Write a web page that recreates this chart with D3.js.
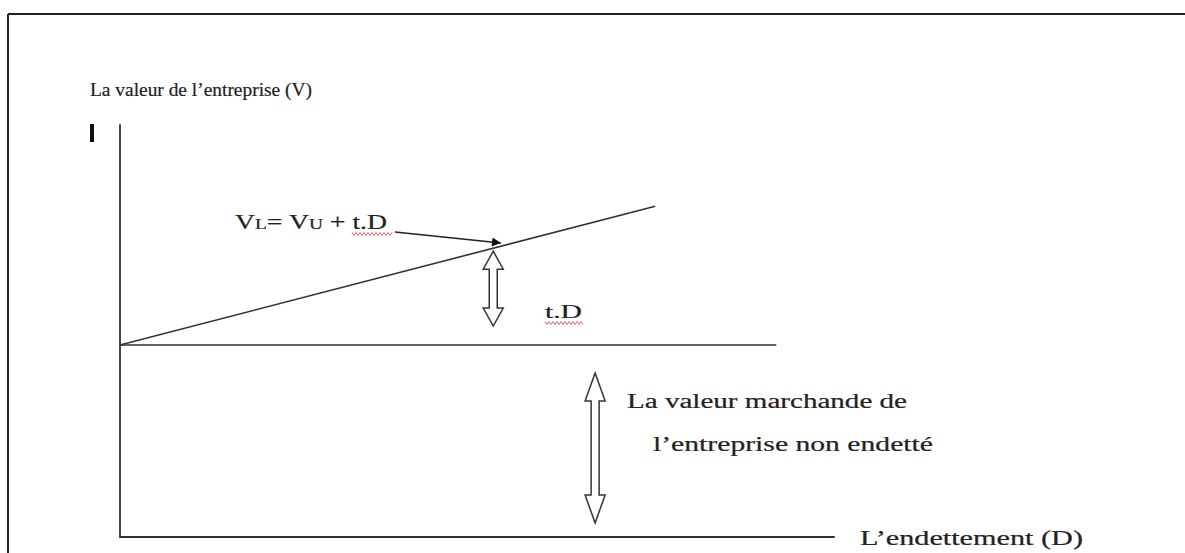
<!DOCTYPE html>
<html>
<head>
<meta charset="utf-8">
<script src="https://cdn.jsdelivr.net/npm/d3@7"></script>
<style>
  html, body { margin: 0; padding: 0; background: #fff; }
  svg { display: block; }
  text { font-family: "Liberation Serif", "DejaVu Serif", serif; fill: #222; stroke: #222; stroke-width: 0.2; }
</style>
</head>
<body>
<svg id="chart" width="1185" height="553"></svg>
<script>
// ---- data (conceptual model, arbitrary units) ----
const debtDomain = [0, 10];          // D axis
const valueDomain = [0, 20];         // V axis
const unleveredValue = [10];         // V_U
const taxRate = [1.128];             // slope t
const axisEnds = [8.56, 21.5];       // D end of x axis, V end of y axis
const lineEnds = [6.41, 7.86];       // D end of V_L line, D end of V_U line
const arrowDebt = [4.47, 5.69];      // D positions of the two double arrows
const labels = [
  "La valeur de l\u2019entreprise (V)",
  "L\u2019endettement (D)",
  "t.D",
  "La valeur marchande de",
  "l\u2019entreprise non endett\u00e9"
];

const svg = d3.select("#chart");
const x = d3.scaleLinear().domain(debtDomain).range([120, 955]);
const y = d3.scaleLinear().domain(valueDomain).range([537, 153]);
const VU = unleveredValue[0], t = taxRate[0];

const ink = "#333";

// frame (scanned page border)
svg.append("line").attr("x1", 8).attr("y1", 14).attr("x2", 1185).attr("y2", 14)
  .attr("stroke", "#222").attr("stroke-width", 2);
svg.append("line").attr("x1", 8).attr("y1", 14).attr("x2", 8).attr("y2", 553)
  .attr("stroke", "#222").attr("stroke-width", 2);

const line = d3.line().x(d => x(d[0])).y(d => y(d[1]));

// axes
svg.append("path").attr("d", line([[0, axisEnds[1]], [0, 0], [axisEnds[0], 0]]))
  .attr("fill", "none").attr("stroke", ink).attr("stroke-width", 1.8);

// V_U horizontal line
svg.append("path").attr("d", line([[0, VU], [lineEnds[1], VU]]))
  .attr("fill", "none").attr("stroke", ink).attr("stroke-width", 1.6);

// V_L = V_U + t.D line
svg.append("path").attr("d", line([[0, VU], [lineEnds[0], VU + t * lineEnds[0]]]))
  .attr("fill", "none").attr("stroke", ink).attr("stroke-width", 1.6);

// hollow double arrow
function doubleArrow(cx, y1, y2, headW, headH, shaftW) {
  const hw = headW / 2, sw = shaftW / 2;
  const p = [
    [cx, y1], [cx + hw, y1 + headH], [cx + sw, y1 + headH],
    [cx + sw, y2 - headH], [cx + hw, y2 - headH], [cx, y2],
    [cx - hw, y2 - headH], [cx - sw, y2 - headH], [cx - sw, y1 + headH],
    [cx - hw, y1 + headH]
  ];
  svg.append("path").attr("d", "M" + p.map(q => q.join(",")).join("L") + "Z")
    .attr("fill", "#fff").attr("stroke", ink).attr("stroke-width", 1.5)
    .attr("stroke-linejoin", "miter");
}
const d1 = arrowDebt[0];
doubleArrow(x(d1), y(VU + t * d1) + 3, y(VU) - 19, 20, 18, 8);
const d2 = arrowDebt[1];
doubleArrow(x(d2), y(VU) + 28, y(0) - 14, 20, 28, 8);

// callout arrow
svg.append("defs").append("marker").attr("id", "tri")
  .attr("viewBox", "0 0 10 10").attr("refX", 10).attr("refY", 5)
  .attr("markerWidth", 14).attr("markerHeight", 9).attr("markerUnits", "userSpaceOnUse")
  .attr("orient", "auto")
  .append("path").attr("d", "M0,0L10,5L0,10Z").attr("fill", "#111");
svg.append("line").attr("x1", 395).attr("y1", 232).attr("x2", 501).attr("y2", 243)
  .attr("stroke", "#222").attr("stroke-width", 1.4).attr("marker-end", "url(#tri)");

// texts
svg.append("text").attr("x", 90).attr("y", 96).attr("font-size", 18.5)
  .attr("textLength", 222).attr("lengthAdjust", "spacingAndGlyphs").text(labels[0]);
svg.append("text").attr("x", 860).attr("y", 545).attr("font-size", 20)
  .attr("textLength", 223).attr("lengthAdjust", "spacingAndGlyphs").text(labels[1]);
svg.append("text").attr("x", 545).attr("y", 318).attr("font-size", 18)
  .attr("textLength", 37).attr("lengthAdjust", "spacingAndGlyphs").text(labels[2]);
svg.append("text").attr("x", 627).attr("y", 408).attr("font-size", 20)
  .attr("textLength", 280).attr("lengthAdjust", "spacingAndGlyphs").text(labels[3]);
svg.append("text").attr("x", 653).attr("y", 451).attr("font-size", 20)
  .attr("textLength", 280).attr("lengthAdjust", "spacingAndGlyphs").text(labels[4]);

const eq = svg.append("text").attr("x", 235).attr("y", 229).attr("font-size", 20)
  .attr("textLength", 152).attr("lengthAdjust", "spacingAndGlyphs");
eq.append("tspan").text("V");
eq.append("tspan").attr("font-size", 14).text("L");
eq.append("tspan").text("= V");
eq.append("tspan").attr("font-size", 14).text("U");
eq.append("tspan").text(" + t.D");

// y-axis "I" mark
svg.append("rect").attr("x", 90).attr("y", 124).attr("width", 4).attr("height", 18)
  .attr("fill", "#111");

// red wavy spell-check underlines
function wavy(x0, x1, yy) {
  const pts = [];
  for (let xx = x0, i = 0; xx <= x1; xx += 2, i++) pts.push([xx, yy + (i % 2 ? 1.5 : -1.5)]);
  svg.append("path").attr("d", d3.line()(pts)).attr("fill", "none")
    .attr("stroke", "#e05050").attr("stroke-width", 0.9);
}
wavy(352, 392, 234);
wavy(545, 583, 323);
</script>
</body>
</html>
